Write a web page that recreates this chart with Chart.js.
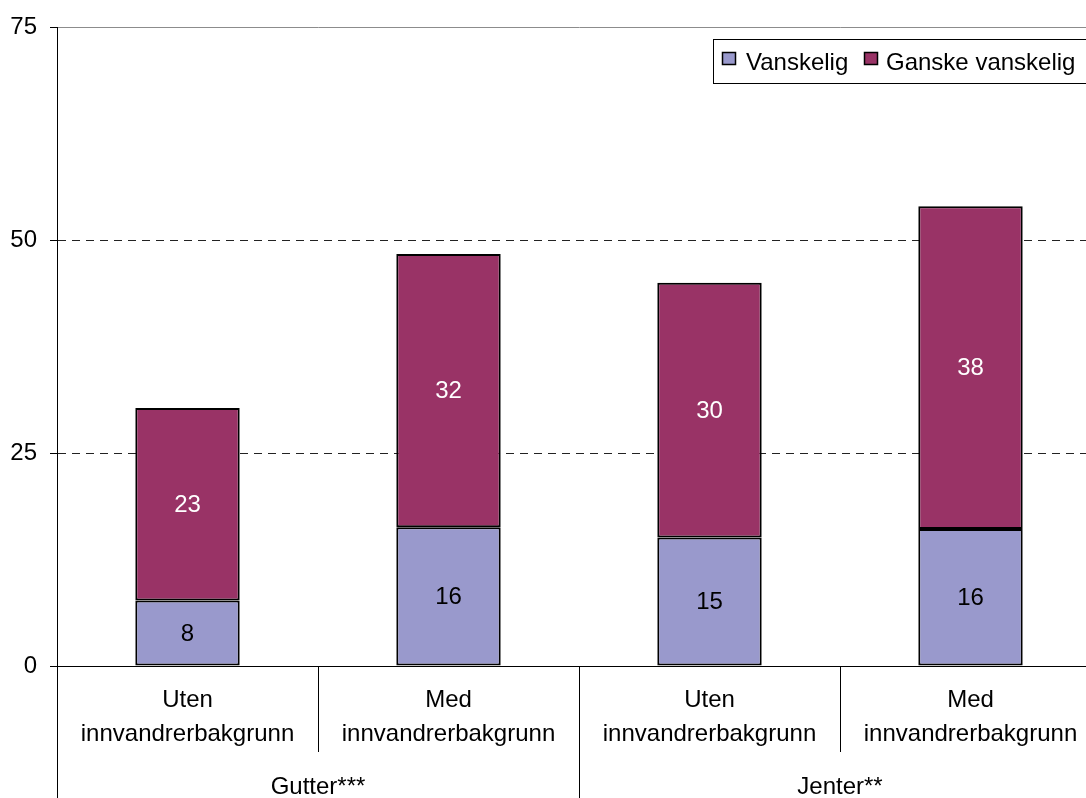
<!DOCTYPE html>
<html><head><meta charset="utf-8">
<script src="https://cdn.jsdelivr.net/npm/chart.js@4.4.0/dist/chart.umd.min.js"></script>
<style>
html,body{margin:0;padding:0;background:#fff;overflow:hidden;width:1086px;height:798px}
#wrap{width:1101px;height:798px}
</style></head>
<body><div id="wrap"><canvas id="c" width="1101" height="798"></canvas></div>
<script>
const categories = [['Uten','innvandrerbakgrunn'],['Med','innvandrerbakgrunn'],['Uten','innvandrerbakgrunn'],['Med','innvandrerbakgrunn']];
const groups = ['Gutter***','Jenter**'];
const groupSizes = [2, 2];
const seriesNames = ['Vanskelig', 'Ganske vanskelig'];
const vanskelig = [7.7, 16.3, 15.1, 16.1];
const ganskeVanskelig = [22.6, 32.1, 29.9, 37.9];
const yTicks = [0, 25, 50, 75];

const FONT = "'Liberation Sans', Arial, sans-serif";
const COLORS = ['#9999CC', '#993366'];
const LABEL_COLORS = ['#000000', '#FFFFFF'];

const valueLabels = {
  id: 'valueLabels',
  afterDatasetsDraw(chart) {
    const ctx = chart.ctx;
    ctx.save();
    ctx.font = '24px ' + FONT;
    ctx.textAlign = 'center';
    ctx.textBaseline = 'middle';
    chart.data.datasets.forEach((ds, di) => {
      const meta = chart.getDatasetMeta(di);
      meta.data.forEach((el, i) => {
        const p = el.getProps(['x', 'y', 'base'], true);
        ctx.fillStyle = LABEL_COLORS[di];
        ctx.fillText(String(Math.round(ds.data[i])), p.x, (p.y + p.base) / 2 + 1);
      });
    });
    ctx.restore();
  }
};

const groupAxis = {
  id: 'groupAxis',
  afterDraw(chart) {
    const ctx = chart.ctx;
    const xs = chart.scales.x;
    const area = chart.chartArea;
    const n = categories.length;
    const step = n > 1 ? xs.getPixelForValue(1) - xs.getPixelForValue(0) : area.right - area.left;
    const boundary = i => xs.getPixelForValue(i) - step / 2;
    ctx.save();
    ctx.strokeStyle = '#000';
    ctx.lineWidth = 1;
    const starts = [];
    let acc = 0;
    groupSizes.forEach(s => { starts.push(acc); acc += s; });
    for (let i = 0; i < n; i++) {
      const bx = Math.round(boundary(i)) + 0.5;
      const isGroupStart = starts.includes(i);
      ctx.beginPath();
      ctx.moveTo(bx, area.bottom);
      ctx.lineTo(bx, isGroupStart ? chart.height : area.bottom + 86);
      ctx.stroke();
    }
    ctx.font = '24px ' + FONT;
    ctx.fillStyle = '#000';
    ctx.textAlign = 'center';
    ctx.textBaseline = 'alphabetic';
    groups.forEach((g, gi) => {
      const a = starts[gi], b = a + groupSizes[gi] - 1;
      const cx = (xs.getPixelForValue(a) + xs.getPixelForValue(b)) / 2;
      ctx.fillText(g, cx, 794);
    });
    ctx.restore();
  }
};

const boxLegend = {
  id: 'boxLegend',
  afterDraw(chart) {
    const ctx = chart.ctx;
    ctx.save();
    ctx.fillStyle = '#fff';
    ctx.fillRect(713, 39, 390, 45);
    ctx.strokeStyle = '#000';
    ctx.lineWidth = 1;
    ctx.strokeRect(713.5, 39.5, 390, 44);
    ctx.font = '24px ' + FONT;
    ctx.textBaseline = 'alphabetic';
    ctx.textAlign = 'left';
    const items = [{sx: 722, tx: 746}, {sx: 864, tx: 886}];
    chart.data.datasets.forEach((ds, i) => {
      const it = items[i];
      ctx.fillStyle = ds.backgroundColor;
      ctx.fillRect(it.sx, 52, 14, 13);
      ctx.strokeStyle = '#000';
      ctx.lineWidth = 1.5;
      ctx.strokeRect(it.sx + 0.5, 52.5, 13, 12);
      ctx.fillStyle = '#000';
      ctx.fillText(ds.label, it.tx, 70);
    });
    ctx.restore();
  }
};

new Chart(document.getElementById('c'), {
  type: 'bar',
  data: {
    labels: categories,
    datasets: [
      { label: seriesNames[0], data: vanskelig, backgroundColor: COLORS[0], borderColor: '#000', borderWidth: 2, borderSkipped: false },
      { label: seriesNames[1], data: ganskeVanskelig, backgroundColor: COLORS[1], borderColor: '#000', borderWidth: 2, borderSkipped: false }
    ]
  },
  options: {
    responsive: false,
    animation: false,
    devicePixelRatio: 1,
    layout: { padding: { top: 27, right: 0, left: 0, bottom: 0 } },
    datasets: { bar: { categoryPercentage: 1.0, barPercentage: 0.4 } },
    plugins: { legend: { display: false }, tooltip: { enabled: false } },
    scales: {
      x: {
        stacked: true,
        grid: { display: false, drawTicks: false },
        border: { display: true, color: '#000', width: 1 },
        ticks: { color: '#000', font: { family: FONT, size: 24, lineHeight: 1.4 }, padding: 18, maxRotation: 0, autoSkip: false },
        afterFit: s => { s.height = 132; }
      },
      y: {
        stacked: true,
        min: 0, max: 75,
        afterBuildTicks: s => { s.ticks = yTicks.map(v => ({ value: v })); },
        grid: {
          color: c => (c.tick && c.tick.value === 75) ? '#8c8c8c' : '#222',
          tickColor: '#000',
          tickLength: 7,
          lineWidth: 1
        },
        border: {
          display: true, color: '#000', width: 1,
          dash: c => (c.tick && (c.tick.value === 25 || c.tick.value === 50)) ? [8, 6] : []
        },
        ticks: { color: '#000', font: { family: FONT, size: 24 }, padding: 13 },
        afterFit: s => { s.width = 57; }
      }
    }
  },
  plugins: [valueLabels, groupAxis, boxLegend]
});
</script>
</body></html>
